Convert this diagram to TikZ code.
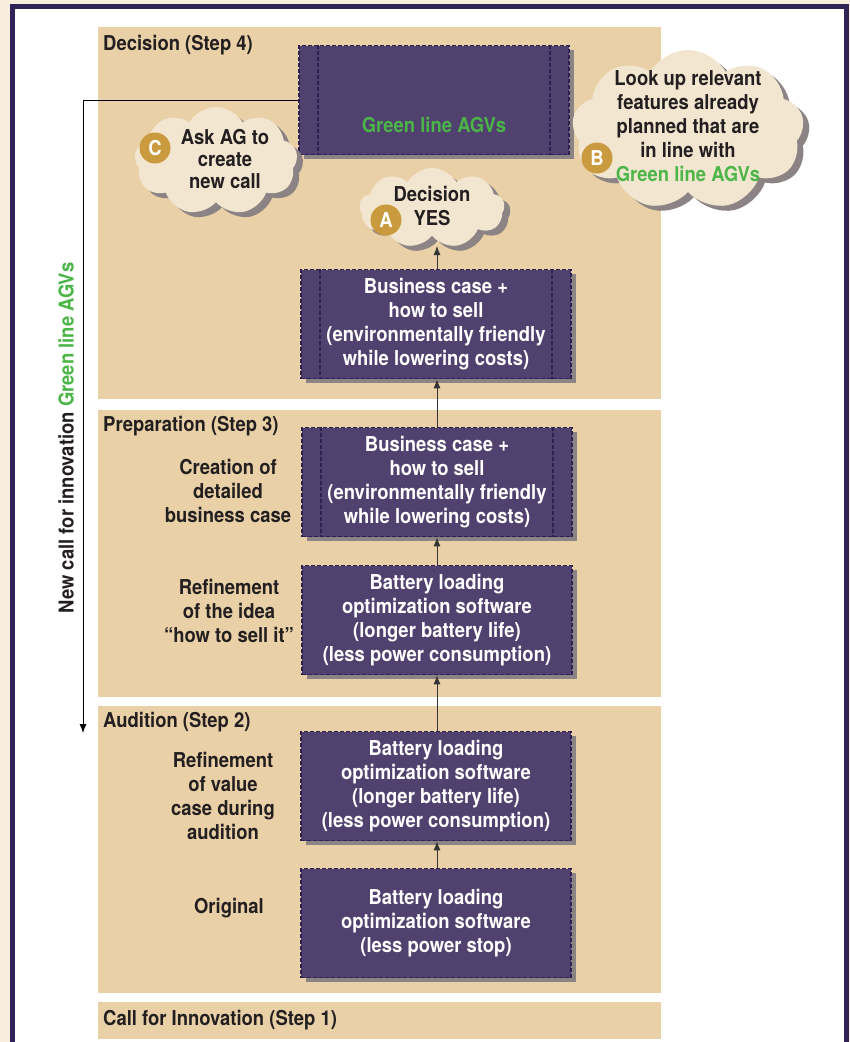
\documentclass[tikz,border=0pt]{standalone}
\usepackage{fontspec}
\setmainfont{TeX Gyre Heros}[FakeStretch=0.9]
\usetikzlibrary{shapes.symbols,shadows,arrows.meta}
\definecolor{cream}{HTML}{F7EEDD}
\definecolor{framec}{HTML}{2F2358}
\definecolor{tanc}{HTML}{E9D0A7}
\definecolor{boxfill}{HTML}{51416E}
\definecolor{boxline}{HTML}{2C2152}
\definecolor{shadowc}{HTML}{8C8484}
\definecolor{cloudfill}{HTML}{F3E6D0}
\definecolor{badgec}{HTML}{C99A3E}
\definecolor{agv}{HTML}{4BB548}
\definecolor{txt}{HTML}{231F20}
\tikzset{
  bigfont/.style={font=\bfseries\fontsize{20.5}{24}\selectfont},
  panel/.style={fill=tanc, draw=none},
  plabel/.style={anchor=west, text=txt, bigfont, inner sep=0pt},
  slabel/.style={text=txt, align=center, bigfont, inner sep=0pt},
  pbox/.style={rectangle, draw=boxline, fill=boxfill, line width=1.6pt,
    dash pattern=on 4pt off 2pt, minimum width=270pt, minimum height=109pt,
    text=white, align=center, bigfont, inner sep=0pt,
    drop shadow={shadow xshift=5pt, shadow yshift=-4pt, fill=shadowc, opacity=1}},
  innerdash/.style={draw=boxline, line width=1.6pt, dash pattern=on 4pt off 2pt},
  cloudn/.style={cloud, cloud puffs=9, cloud puff arc=120, cloud ignores aspect,
    fill=cloudfill, draw=none, inner sep=0pt,
    drop shadow={shadow xshift=6pt, shadow yshift=-5pt, fill=shadowc, opacity=1}},
  ctext/.style={text=txt, align=center, bigfont, inner sep=0pt},
  badge/.style={circle, fill=badgec, text=white, minimum size=31pt, inner sep=0pt, bigfont},
  arr/.style={draw=black!80, line width=0.9pt, -{Latex[length=9pt,width=7pt]}},
}
\begin{document}
\begin{tikzpicture}[x=1pt,y=-1pt]
\useasboundingbox (0,0) rectangle (850,1042);
\fill[cream] (0,0) rectangle (850,1042);
\filldraw[fill=white, draw=framec, line width=5pt] (12.5,6.5) rectangle (846.5,1070);

% panels
\fill[panel] (98,27) rectangle (661,399);
\fill[panel] (98,410) rectangle (661,697);
\fill[panel] (98,706) rectangle (661,993);
\fill[panel] (98,1002) rectangle (661,1039);

\node[plabel] (l4) at (103,45) {Decision (Step 4)};
\node[plabel] (l3) at (103,426) {Preparation (Step 3)};
\node[plabel] (l2) at (103,722) {Audition (Step 2)};
\node[plabel] (l1) at (103,1020) {Call for Innovation (Step 1)};

% side labels
\node[slabel] (s1) at (228,491) {Creation of\\detailed\\business case};
\node[slabel] (s2) at (229,611) {Refinement\\of the idea\\“how to sell it”};
\node[slabel] (s3) at (223,796) {Refinement\\of value\\case during\\audition};
\node[slabel] (s4) at (229,908) {Original};

% boxes
\node[pbox] (b1) at (434,100) {};
\node[text=agv, bigfont, inner sep=0pt] (b1t) at (434,125) {Green line AGVs};
\node[pbox] (b2) at (436,324) {Business case +\\how to sell\\(environmentally friendly\\while lowering costs)};
\node[pbox] (b3) at (437,482) {Business case +\\how to sell\\(environmentally friendly\\while lowering costs)};
\node[pbox] (b4) at (437,620) {Battery loading\\optimization software\\(longer battery life)\\(less power consumption)};
\node[pbox] (b5) at (436,786) {Battery loading\\optimization software\\(longer battery life)\\(less power consumption)};
\node[pbox] (b6) at (436,923) {Battery loading\\optimization software\\(less power stop)};

\foreach \b in {b1,b2,b3}{
  \draw[innerdash] ([xshift=20pt]\b.north west) -- ([xshift=20pt]\b.south west);
  \draw[innerdash] ([xshift=-20pt]\b.north east) -- ([xshift=-20pt]\b.south east);
}

% clouds
\node[cloudn, minimum width=232pt, minimum height=160pt] (cB) at (688,130) {};
\node[ctext] (cBt) at (688,126) {Look up relevant\\features already\\planned that are\\in line with\\\textcolor{agv}{Green line AGVs}};
\node[cloudn, minimum width=163pt, minimum height=108pt] (cC) at (216,161) {};
\node[ctext, font=\bfseries\fontsize{20.5}{22}\selectfont] (cCt) at (225,159) {Ask AG to\\create\\new call};
\node[cloudn, minimum width=145pt, minimum height=80pt] (cA) at (432,208) {};
\node[ctext] (cAt) at (432,206) {Decision\\YES};

\node[badge] (bB) at (597,158) {B};
\node[badge] (bC) at (155,148) {C};
\node[badge] (bA) at (386,220) {A};

% arrows
\draw[arr] (b6.north -| 437,0) -- (b5.south -| 437,0);
\draw[arr] (b5.north -| 437,0) -- (b4.south -| 437,0);
\draw[arr] (b4.north -| 437,0) -- (b3.south -| 437,0);
\draw[arr] (b3.north -| 437,0) -- (b2.south -| 437,0);
\coordinate (aTip) at (437,246);
\draw[arr] (b2.north -| 437,0) -- (aTip);

\coordinate (ncEnd) at (83,733);
\draw[line width=0.9pt, -{Latex[length=9pt,width=7pt]}] (b1.west) -| (ncEnd);
\node[rotate=90, text=txt, bigfont, inner sep=0pt] (nc) at (66,438)
  {New call for innovation \textcolor{agv}{Green line AGVs}};
\end{tikzpicture}
\end{document}
